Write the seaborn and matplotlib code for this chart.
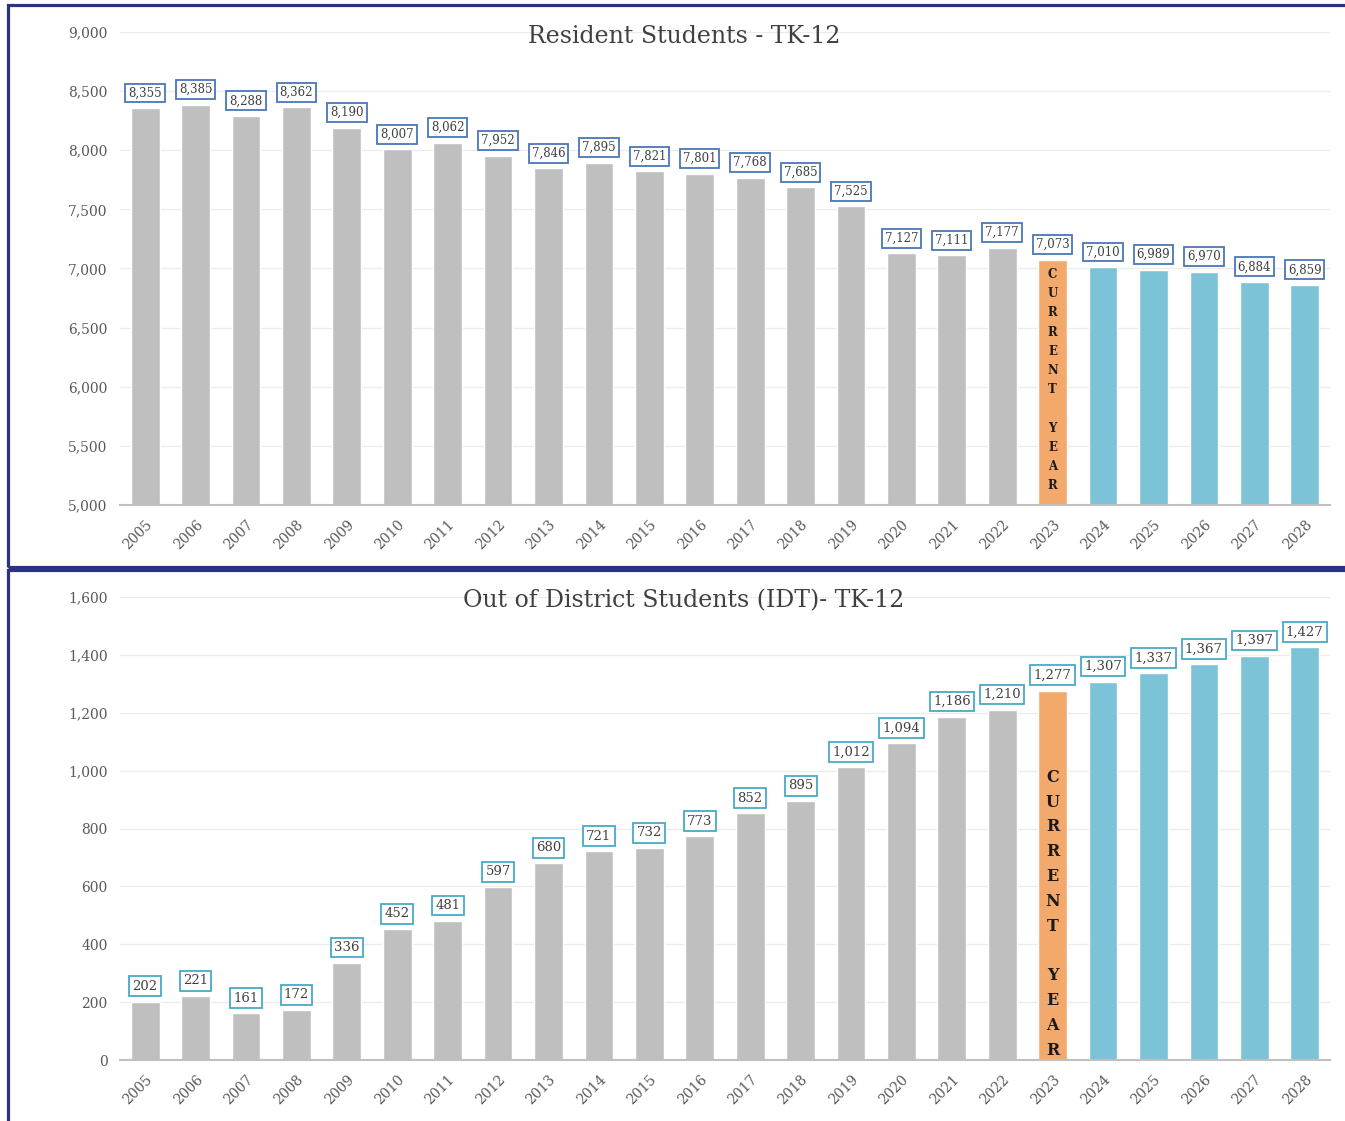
import pandas as pd
import matplotlib.pyplot as plt
import seaborn as sns
from matplotlib.patches import Rectangle
from matplotlib.ticker import FuncFormatter

# Chart data
years = [str(y) for y in range(2005, 2029)]
resident = [8355, 8385, 8288, 8362, 8190, 8007, 8062, 7952, 7846, 7895, 7821, 7801,
            7768, 7685, 7525, 7127, 7111, 7177, 7073, 7010, 6989, 6970, 6884, 6859]
idt = [202, 221, 161, 172, 336, 452, 481, 597, 680, 721, 732, 773,
       852, 895, 1012, 1094, 1186, 1210, 1277, 1307, 1337, 1367, 1397, 1427]
current_year = "2023"
titles = ["Resident Students - TK-12", "Out of District Students (IDT)- TK-12"]

GRAY, ORANGE, BLUE = "#bfbfbf", "#f4a96c", "#7cc3d7"
NAVY = "#2c3282"
TEXT = "#404040"

sns.set_theme(style="white")
plt.rcParams['font.family'] = ['DejaVu Serif']

colors = {}
for y in years:
    if y < current_year:
        colors[y] = GRAY
    elif y == current_year:
        colors[y] = ORANGE
    else:
        colors[y] = BLUE

fig = plt.figure(figsize=(13.45, 11.21), dpi=100)
ax_top = fig.add_axes([0.0892, 0.5495, 0.8996, 0.422])
ax_bot = fig.add_axes([0.0892, 0.0544, 0.8996, 0.4130])

panels = [
    (ax_top, resident, (5000, 9000), 500, "#4a76b8", 8.5, 6057, 8.5, 1.62),
    (ax_bot, idt, (0, 1600), 200, "#49a9c7", 9.5, 506, 11.5, 1.6),
]

for ax, vals, ylim, step, box_ec, lab_fs, cy_mid, cy_fs, cy_ls in panels:
    df = pd.DataFrame({"year": years, "students": vals})
    sns.barplot(data=df, x="year", y="students", hue="year", palette=colors,
                legend=False, width=0.57, saturation=1, ax=ax)
    ax.set_ylim(*ylim)
    ax.set_xlim(-0.5, len(years) - 0.5)
    ax.set_yticks(range(ylim[0], ylim[1] + 1, step))
    ax.yaxis.set_major_formatter(FuncFormatter(lambda v, p: f"{int(v):,}"))
    ax.grid(axis="y", color="#ececec", linewidth=1)
    ax.set_axisbelow(True)
    for s in ["top", "right", "left"]:
        ax.spines[s].set_visible(False)
    ax.spines["bottom"].set_color("#c0c0c0")
    ax.spines["bottom"].set_linewidth(1.5)
    ax.set_xlabel("")
    ax.set_ylabel("")
    ax.tick_params(axis="both", length=0, colors="#595959", labelsize=10)
    ax.tick_params(axis="y", pad=9)
    ax.tick_params(axis="x", pad=9)
    for lbl in ax.get_xticklabels():
        lbl.set_rotation(45)
        lbl.set_ha("right")
        lbl.set_rotation_mode("anchor")

    # value labels in boxes
    for i, v in enumerate(vals):
        ax.annotate(f"{v:,}", xy=(i, v), xytext=(0, 11), textcoords="offset points",
                    ha="center", va="center", fontsize=lab_fs, color=TEXT,
                    bbox=dict(boxstyle="square,pad=0.25", fc="white", ec=box_ec, lw=1.3))

    # CURRENT YEAR stacked text
    idx = years.index(current_year)
    ax.text(idx, cy_mid, "\n".join("CURRENT YEAR"),
            ha="center", va="center", fontsize=cy_fs, fontweight="bold",
            color="#1a1a1a", linespacing=cy_ls)

fig.text(0.5086, 0.967, titles[0], ha="center", va="center", fontsize=17, color=TEXT)
fig.text(0.5086, 0.4639, titles[1], ha="center", va="center", fontsize=17, color=TEXT)

# panel borders
fig.patches.append(Rectangle((0.006, 0.4942), 1.0, 0.5013, transform=fig.transFigure,
                             fill=False, ec=NAVY, lw=2.3, figure=fig))
fig.patches.append(Rectangle((0.006, -0.02), 1.0, 0.5115, transform=fig.transFigure,
                             fill=False, ec=NAVY, lw=2.3, figure=fig))

fig.savefig("out.png", dpi=100)
